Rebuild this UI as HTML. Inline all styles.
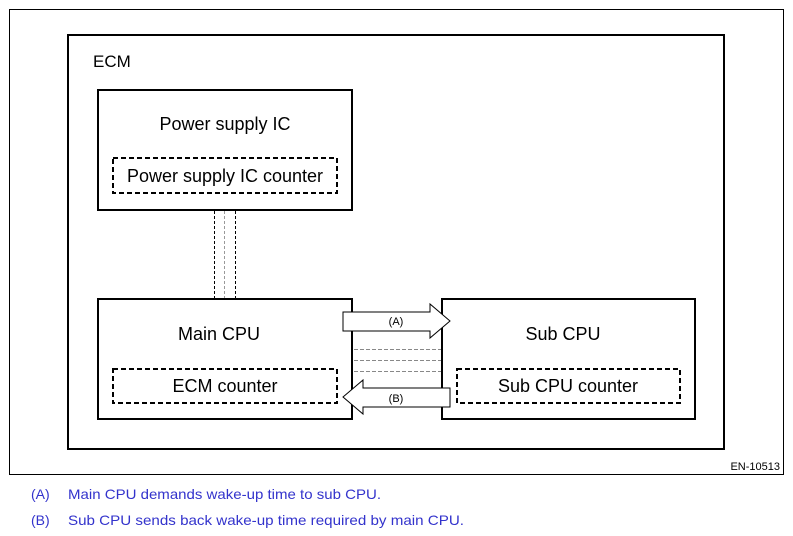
<!DOCTYPE html>
<html><head><style>
html,body{margin:0;padding:0;background:#fff;width:793px;height:536px;overflow:hidden}
svg text{font-family:"Liberation Sans",Arial,sans-serif}
</style></head><body>
<svg width="793" height="536" viewBox="0 0 793 536" xmlns="http://www.w3.org/2000/svg">
<rect x="9.5" y="9.5" width="774" height="465" fill="none" stroke="#000" stroke-width="1"/>
<rect x="68" y="35" width="656" height="414" fill="none" stroke="#000" stroke-width="2"/>
<text x="93" y="67" font-size="17">ECM</text>
<rect x="98" y="90" width="254" height="120" fill="none" stroke="#000" stroke-width="2"/>
<text x="225" y="130" font-size="18" text-anchor="middle">Power supply IC</text>
<rect x="113" y="158" width="224" height="35" fill="none" stroke="#000" stroke-width="2" stroke-dasharray="5,3"/>
<text x="225" y="182" font-size="18" text-anchor="middle">Power supply IC counter</text>
<line x1="214.5" y1="211" x2="214.5" y2="299" stroke="#000" stroke-dasharray="3,2"/>
<line x1="224.5" y1="211" x2="224.5" y2="299" stroke="#999" stroke-dasharray="3,2"/>
<line x1="235.5" y1="211" x2="235.5" y2="299" stroke="#000" stroke-dasharray="3,2"/>
<rect x="98" y="299" width="254" height="120" fill="none" stroke="#000" stroke-width="2"/>
<text x="219" y="340" font-size="18" text-anchor="middle">Main CPU</text>
<rect x="113" y="369" width="224" height="34" fill="none" stroke="#000" stroke-width="2" stroke-dasharray="5,3"/>
<text x="225" y="392" font-size="18" text-anchor="middle">ECM counter</text>
<rect x="442" y="299" width="253" height="120" fill="none" stroke="#000" stroke-width="2"/>
<text x="563" y="340" font-size="18" text-anchor="middle">Sub CPU</text>
<rect x="457" y="369" width="223" height="34" fill="none" stroke="#000" stroke-width="2" stroke-dasharray="5,3"/>
<text x="568" y="392" font-size="18" text-anchor="middle">Sub CPU counter</text>
<line x1="354" y1="349.5" x2="441" y2="349.5" stroke="#888" stroke-dasharray="4,2"/>
<line x1="354" y1="360.5" x2="441" y2="360.5" stroke="#888" stroke-dasharray="4,2"/>
<line x1="354" y1="371.5" x2="441" y2="371.5" stroke="#888" stroke-dasharray="4,2"/>
<polygon points="343,312 430,312 430,304 450,321 430,338 430,331 343,331" fill="#fff" stroke="#000" stroke-width="1"/>
<text x="396" y="325" font-size="11" text-anchor="middle">(A)</text>
<polygon points="450,388 363,388 363,380 343,397 363,414 363,407 450,407" fill="#fff" stroke="#000" stroke-width="1"/>
<text x="396" y="402" font-size="11" text-anchor="middle">(B)</text>
<text x="780" y="470" font-size="11" text-anchor="end">EN-10513</text>
<g font-size="14" fill="#3333cc">
<text x="31" y="499">(A)</text>
<text x="68" y="499" textLength="313" lengthAdjust="spacingAndGlyphs">Main CPU demands wake-up time to sub CPU.</text>
<text x="31" y="525">(B)</text>
<text x="68" y="525" textLength="396" lengthAdjust="spacingAndGlyphs">Sub CPU sends back wake-up time required by main CPU.</text>
</g>
</svg>
</body></html>
